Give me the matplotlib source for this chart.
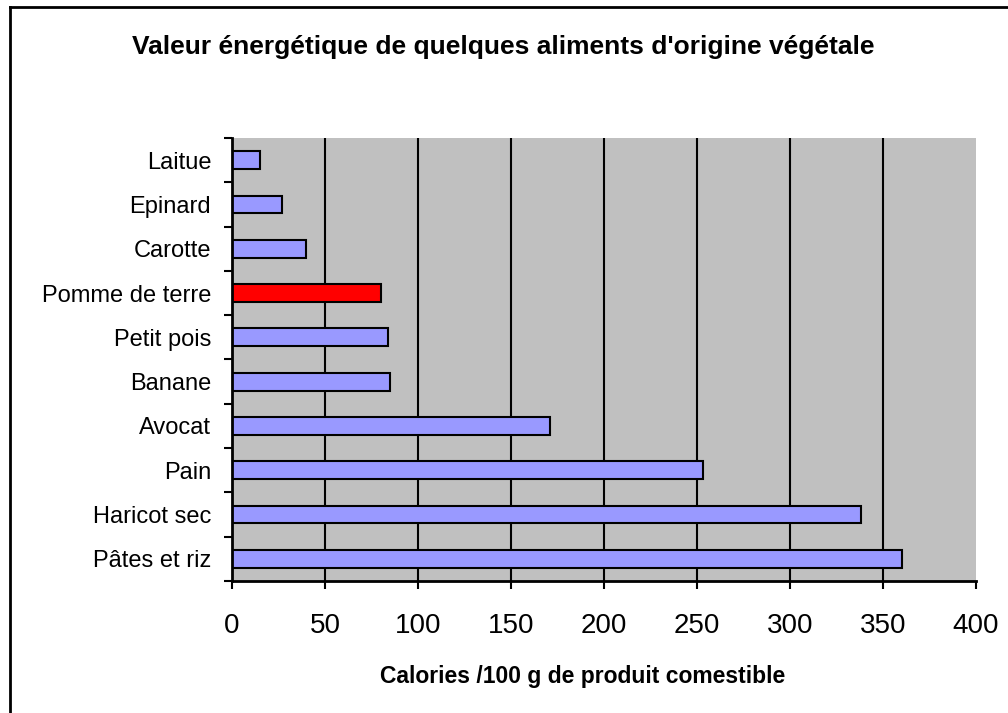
import matplotlib.pyplot as plt
import matplotlib.lines as mlines
import numpy as np

plt.rcParams['font.family'] = ['Liberation Sans', 'DejaVu Sans']

# Données (de haut en bas)
aliments = ['Laitue', 'Epinard', 'Carotte', 'Pomme de terre', 'Petit pois',
            'Banane', 'Avocat', 'Pain', 'Haricot sec', 'Pâtes et riz']
calories = [15, 27, 40, 80, 84, 85, 171, 253, 338, 360]
couleurs = ['#9999FF', '#9999FF', '#9999FF', '#FF0000', '#9999FF',
            '#9999FF', '#9999FF', '#9999FF', '#9999FF', '#9999FF']
graduations = [0, 50, 100, 150, 200, 250, 300, 350, 400]

fig = plt.figure(figsize=(10.08, 7.13), dpi=100)
ax = fig.add_axes([0.2302, 0.1851, 0.7381, 0.6214])
ax.set_facecolor('#C0C0C0')

y = np.arange(len(aliments))
ax.barh(y, calories, height=0.4, color=couleurs, edgecolor='black', linewidth=1.5, zorder=3)

# Grille verticale
for g in graduations[1:-1]:
    ax.axvline(g, color='black', linewidth=1.5, zorder=1)

ax.set_xlim(0, 400)
ax.set_ylim(len(aliments) - 0.5, -0.5)

ax.set_xticks(graduations)
ax.set_xticklabels([str(g) for g in graduations], fontsize=20)
ax.tick_params(axis='x', direction='out', length=6, width=1.5, pad=17)

ax.set_yticks(y)
ax.set_yticklabels(aliments, fontsize=17)
ax.set_yticks(np.arange(-0.5, len(aliments), 1), minor=True)
ax.tick_params(axis='y', which='major', length=0, pad=15)
ax.tick_params(axis='y', which='minor', direction='out', length=6, width=1.5)

for s in ['top', 'right']:
    ax.spines[s].set_visible(False)
for s in ['left', 'bottom']:
    ax.spines[s].set_linewidth(2)
    ax.spines[s].set_zorder(4)

fig.text(503 / 1008, 1 - 47 / 713, "Valeur énergétique de quelques aliments d'origine végétale",
         ha='center', va='center', fontsize=19, fontweight='bold')
fig.text(583 / 1008, 1 - 676 / 713, 'Calories /100 g de produit comestible',
         ha='center', va='center', fontsize=16.5, fontweight='bold')

# Cadre du graphique (gauche et haut)
x0, y0 = 10 / 1008, 1 - 7 / 713
fig.lines.append(mlines.Line2D([x0, x0], [0, y0], transform=fig.transFigure,
                               color='black', linewidth=2))
fig.lines.append(mlines.Line2D([x0, 1], [y0, y0], transform=fig.transFigure,
                               color='black', linewidth=2))

plt.savefig('out.png', dpi=100)
